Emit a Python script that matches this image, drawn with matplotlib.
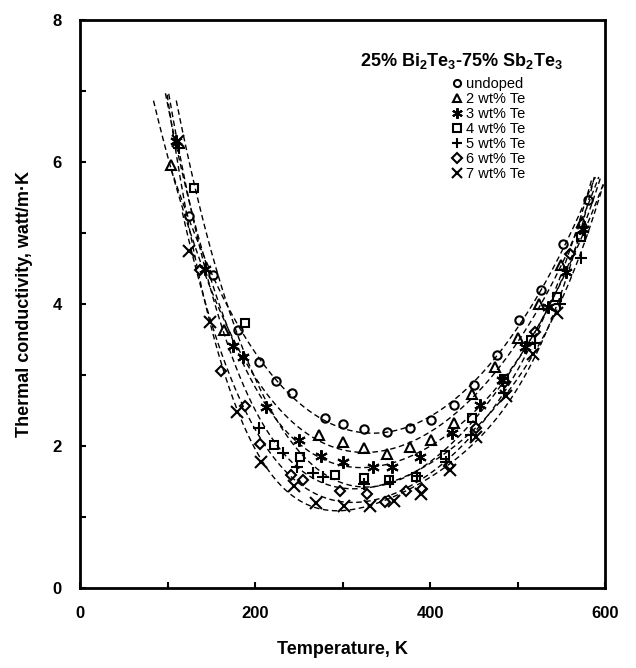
import numpy as np
import matplotlib
matplotlib.use("Agg")
import matplotlib.pyplot as plt
from matplotlib.lines import Line2D

plt.rcParams['font.family'] = ['Liberation Sans', 'DejaVu Sans']
plt.rcParams['mathtext.fontset'] = 'custom'
plt.rcParams['mathtext.rm'] = 'Liberation Sans'
plt.rcParams['mathtext.bf'] = 'Liberation Sans:bold'

labels = ["undoped", "2 wt% Te", "3 wt% Te", "4 wt% Te", "5 wt% Te", "6 wt% Te", "7 wt% Te"]

t_undoped = [124, 152, 180, 204, 224, 242, 280, 300, 325, 351, 377, 401, 427, 450, 476, 502, 527, 552, 580]
k_undoped = [5.24, 4.41, 3.64, 3.19, 2.91, 2.74, 2.40, 2.31, 2.24, 2.20, 2.25, 2.36, 2.58, 2.86, 3.28, 3.77, 4.20, 4.85, 5.46]

t_te2 = [104, 165, 273, 301, 325, 351, 377, 401, 427, 448, 474, 501, 525, 550, 574]
k_te2 = [5.96, 3.63, 2.16, 2.06, 1.97, 1.89, 1.99, 2.08, 2.32, 2.73, 3.11, 3.52, 4.00, 4.55, 5.15]

t_te3 = [110, 143, 175, 186, 213, 250, 275, 301, 335, 356, 388, 425, 457, 482, 508, 535, 555, 575]
k_te3 = [6.30, 4.50, 3.41, 3.25, 2.55, 2.08, 1.86, 1.78, 1.71, 1.71, 1.84, 2.18, 2.58, 2.93, 3.40, 3.96, 4.45, 5.05]

t_te4 = [130, 188, 222, 251, 291, 324, 353, 384, 417, 448, 484, 515, 545, 572]
k_te4 = [5.64, 3.73, 2.01, 1.84, 1.59, 1.545, 1.52, 1.57, 1.87, 2.39, 2.95, 3.50, 4.10, 4.95]

t_te5 = [113, 205, 232, 248, 266, 278, 324, 354, 385, 418, 447, 485, 520, 548, 572]
k_te5 = [6.20, 2.25, 1.90, 1.71, 1.62, 1.57, 1.47, 1.50, 1.58, 1.78, 2.15, 2.75, 3.45, 4.00, 4.65]

t_te6 = [137, 161, 188, 206, 241, 255, 297, 328, 349, 373, 391, 422, 452, 486, 520, 560]
k_te6 = [4.48, 3.05, 2.56, 2.03, 1.59, 1.52, 1.36, 1.32, 1.21, 1.37, 1.39, 1.72, 2.25, 2.90, 3.60, 4.70]

t_te7 = [112, 124, 148, 179, 207, 245, 270, 302, 331, 359, 390, 423, 453, 487, 518, 545]
k_te7 = [6.30, 4.75, 3.75, 2.48, 1.78, 1.43, 1.20, 1.16, 1.155, 1.23, 1.32, 1.66, 2.13, 2.70, 3.30, 3.87]

series_t = [t_undoped, t_te2, t_te3, t_te4, t_te5, t_te6, t_te7]
series_k = [k_undoped, k_te2, k_te3, k_te4, k_te5, k_te6, k_te7]
markers = ['o', '^', (6, 2, 0), 's', '+', 'D', 'x']
msizes = [6, 6.5, 9, 6, 9, 5.5, 8]
filled = [False, False, True, False, True, False, True]

fig = plt.figure(figsize=(6.36, 6.68), dpi=100)
ax = fig.add_axes([80/636, 1-588/668, 525/636, 568/668])

for t, k, m, ms, f in zip(series_t, series_k, markers, msizes, filled):
    t = np.array(t, float); k = np.array(k, float)
    c = np.polyfit(t, k, 4)
    tt = np.linspace(t.min() - 20, 598, 600)
    kk = np.polyval(c, tt)
    ok = np.where(tt < 350, kk <= 7.0, kk <= 5.8)
    ax.plot(tt[ok], kk[ok], color='black', lw=1.0, ls=(0, (4, 2.5)), zorder=2)
    ax.plot(t, k, ls='none', marker=m, ms=ms, mfc='black' if f else 'none',
            mec='black', mew=1.5, zorder=3)

ax.set_xlim(0, 600)
ax.set_ylim(0, 8)
ax.set_xticks(np.arange(0, 601, 100))
ax.set_xticklabels(['0', '', '200', '', '400', '', '600'])
ax.set_yticks(np.arange(0, 8.1, 1))
ax.set_yticklabels(['0', '', '2', '', '4', '', '6', '', '8'])
ax.tick_params(direction='in', length=4, width=1.5, labelsize=12, pad=13)
for lab in ax.get_xticklabels() + ax.get_yticklabels():
    lab.set_fontweight('bold')
for s in ax.spines.values():
    s.set_linewidth(2)

ax.set_xlabel('Temperature, K', fontsize=13, fontweight='bold', labelpad=14)
ax.set_ylabel('Thermal conductivity, watt/m\u00b7K', fontsize=13, fontweight='bold', labelpad=14)

ax.text(0.533, 0.928, r'25% Bi$_\mathbf{2}$Te$_\mathbf{3}$-75% Sb$_\mathbf{2}$Te$_\mathbf{3}$',
        transform=ax.transAxes, ha='left', va='center', fontsize=13, fontweight='bold')

handles = [Line2D([], [], ls='none', marker=m, ms=ms * 0.85, mfc='black' if f else 'none',
                  mec='black', mew=1.5) for m, ms, f in zip(markers, msizes, filled)]
ax.legend(handles, labels, loc='upper left', bbox_to_anchor=(0.71, 0.9), frameon=False,
          fontsize=10.5, handlelength=0.6, handletextpad=0.3, labelspacing=0.07, borderpad=0, borderaxespad=0)

fig.savefig('out.png', dpi=100)
